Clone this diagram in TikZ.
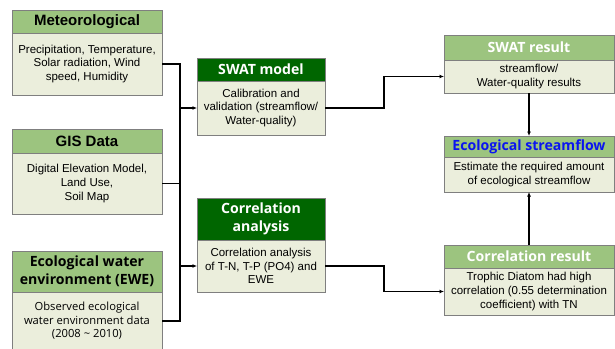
\documentclass[tikz,border=0pt]{standalone}
\usepackage{fontspec}
\setmainfont{Liberation Sans}
\newfontfamily\gothic{Open Sans}
\usetikzlibrary{arrows.meta,shadows}

\definecolor{hdrlight}{HTML}{9CC47F}
\definecolor{hdrdark}{HTML}{006600}
\definecolor{bodyfill}{HTML}{EBEEDC}
\definecolor{edge}{HTML}{7F7F7F}
\definecolor{titleblue}{HTML}{0A14F0}

\tikzset{
  panel/.style={draw=edge, line width=0.7pt, anchor=north west, inner sep=0pt,
    outer sep=0pt, align=center,
    drop shadow={shadow xshift=1.2pt, shadow yshift=-1.2pt, opacity=0.25, fill=black}},
  headlight/.style={panel, fill=hdrlight},
  headdark/.style={panel, fill=hdrdark, text=white},
  panelbody/.style={panel, fill=bodyfill, font=\fontsize{11.5}{13.6}\selectfont},
  titlearial/.style={font=\bfseries\fontsize{15}{17}\selectfont},
  titlegothic/.style={font=\gothic\bfseries\fontsize{14.1}{17.5}\selectfont},
  link/.style={line width=1.4pt, black},
  feed/.style={link, -{Latex[length=4.5pt,width=4pt]}}
}

\begin{document}
\begin{tikzpicture}[x=1pt, y=-1pt]
\clip (0,0) rectangle (615,348);
\fill[white] (0,0) rectangle (615,348);

% left column: data sources
\node[headlight, titlearial, minimum width=150pt, minimum height=23pt] (metH) at (12,10) {Meteorological};
\node[panelbody, minimum width=150pt, minimum height=62pt] (metB) at (12,33)
  {Precipitation, Temperature,\\Solar radiation, Wind\\speed, Humidity};

\node[headlight, titlearial, minimum width=150pt, minimum height=24pt] (gisH) at (12,129) {GIS Data};
\node[panelbody, minimum width=150pt, minimum height=61pt] (gisB) at (12,153)
  {Digital Elevation Model,\\Land Use,\\Soil Map};

\node[headlight, titlegothic, minimum width=150pt, minimum height=41pt] (eweH) at (12,251)
  {Ecological water\\environment (EWE)};
\node[panelbody, font=\gothic\fontsize{11.2}{13.6}\selectfont, minimum width=150pt, minimum height=58pt] (eweB) at (12,292)
  {Observed ecological\\water environment data\\(2008 \textasciitilde\ 2010)};

% middle column: models
\node[headdark, titlegothic, minimum width=128pt, minimum height=23pt] (swatH) at (197,58) {SWAT model};
\node[panelbody, minimum width=128pt, minimum height=54pt] (swatB) at (197,81)
  {Calibration and\\validation (streamflow/\\Water-quality)};

\node[headdark, titlegothic, minimum width=128pt, minimum height=42pt] (corrH) at (197,198)
  {Correlation\\analysis};
\node[panelbody, minimum width=128pt, minimum height=52pt] (corrB) at (197,240)
  {Correlation analysis\\of T-N, T-P (PO4) and\\EWE};

% right column: results
\node[headlight, titlegothic, text=white, minimum width=170pt, minimum height=25pt] (resH) at (444,35) {SWAT result};
\node[panelbody, minimum width=170pt, minimum height=33pt] (resB) at (444,60)
  {streamflow/\\Water-quality results};

\node[headlight, titlegothic, text=titleblue, minimum width=170pt, minimum height=21pt] (ecoH) at (444,136) {Ecological streamflow};
\node[panelbody, minimum width=170pt, minimum height=35pt] (ecoB) at (444,157)
  {Estimate the required amount\\of ecological streamflow};

\node[headlight, titlegothic, text=white, minimum width=170pt, minimum height=23pt] (crH) at (444,245) {Correlation result};
\node[panelbody, minimum width=170pt, minimum height=47pt] (crB) at (444,268)
  {Trophic Diatom had high\\correlation (0.55 determination\\coefficient) with TN};

% connectors
\coordinate (trunk) at (180,0);
\coordinate (split) at (384,0);

\draw[link] (metB.east) -- (metB.east -| trunk) -- (eweB.east -| trunk) -- (eweB.east);
\draw[link] (gisB.east) -- (gisB.east -| trunk);
\draw[feed] (swatB.west -| trunk) -- (swatB.west);
\draw[feed] (corrB.west -| trunk) -- (corrB.west);

\draw[feed] (swatB.east) -- (swatB.east -| split) |- (resB.west);
\draw[feed] (corrB.east) -- (corrB.east -| split) |- (crB.west);

\draw[feed] (resB.south) -- (ecoH.north);
\draw[feed] (crH.north) -- (ecoB.south);
\end{tikzpicture}
\end{document}
